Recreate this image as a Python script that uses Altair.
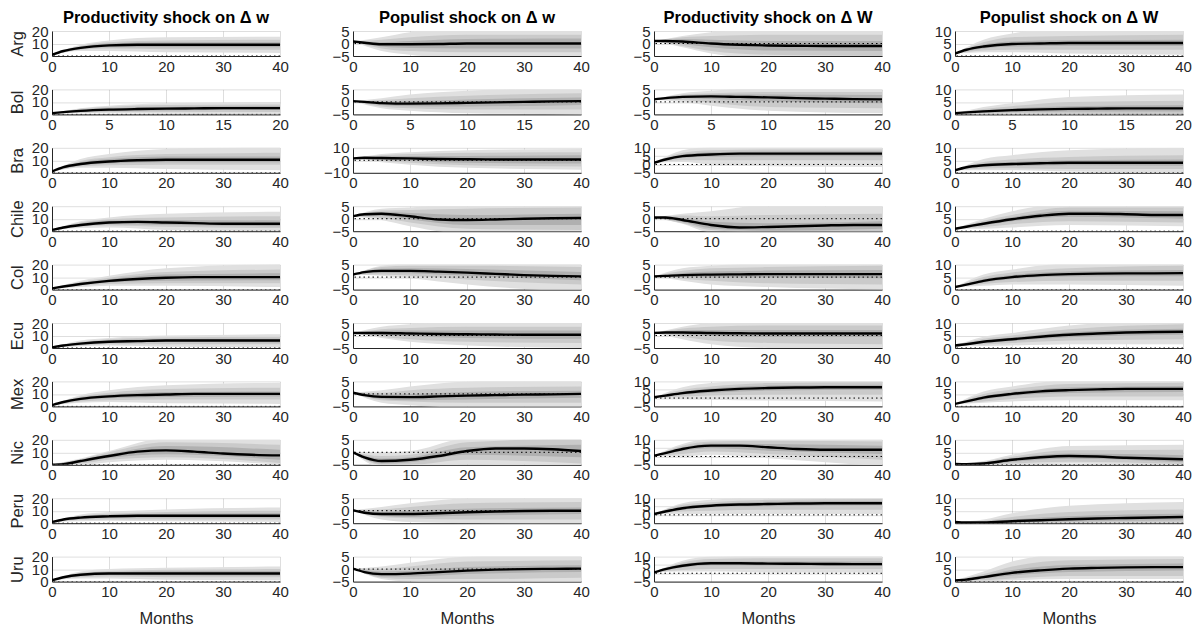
import altair as alt
import pandas as pd

COUNTRIES = ["Arg", "Bol", "Bra", "Chile", "Col", "Ecu", "Mex", "Nic", "Peru", "Uru"]
HORIZON = {"Bol": 20}
TITLES = ["Productivity shock on \u0394 w", "Populist shock on \u0394 w",
          "Productivity shock on \u0394 W", "Populist shock on \u0394 W"]
LINE_FRAC = [0, 0.05, 0.125, 0.25, 0.375, 0.5, 0.625, 0.75, 0.875, 1.0]
BAND_FRAC = [0, 0.125, 0.25, 0.5, 1.0]
X_TICKS = {40: [0, 10, 20, 30, 40], 20: [0, 5, 10, 15, 20]}

# each entry: line, outer hi, outer lo, mid hi, mid lo, inner hi, inner lo
PROD_w = {
    "Arg": ([1, 4, 6.5, 8.5, 9, 9, 9, 9, 9, 9], [1, 9, 12.5, 15, 15.5], [1, 4, 4, 3, 2.5], [1, 8, 11, 12.5, 13], [1, 5, 6, 5.5, 5], [1, 7.5, 10, 11, 11], [1, 5.5, 7, 7, 7]),
    "Bol": ([1, 1.8, 2.8, 3.8, 4.3, 4.6, 4.8, 5, 5, 5], [1, 5, 7, 9, 10], [1, 1, 1, 0.5, 0], [1, 4.5, 6, 7.5, 8], [1, 1.5, 2, 2, 2], [1, 3.8, 5, 6, 6.5], [1, 2, 2.8, 3.2, 3.5]),
    "Bra": ([1, 4.5, 7, 9, 10, 10.5, 10.5, 10.5, 10.5, 10.5], [1, 11, 15, 19, 21], [1, 4, 4, 3, 2], [1, 9.5, 12.5, 15, 16], [1, 5, 6, 6.5, 6.5], [1, 8.5, 11, 13, 13], [1, 6, 7.5, 8.5, 8.5]),
    "Chile": ([1, 3, 5, 7, 7.5, 7, 6.5, 6, 6, 6], [1, 8, 11, 14, 15.5], [1, 2.5, 3, 1, 0], [1, 7, 9.5, 11, 12], [1, 3.5, 4.5, 3.5, 2.5], [1, 6, 8.5, 9, 8.5], [1, 4, 5.5, 5, 4]),
    "Col": ([1, 2.5, 4.5, 7, 8.5, 9.5, 10, 10, 10, 10], [1, 7, 11, 17, 20.5], [1, 2, 3, 3, 2], [1, 6, 9.5, 14, 16], [1, 3, 4.5, 5, 5], [1, 5.3, 8.3, 12, 13], [1, 3.7, 5.7, 7, 7.5]),
    "Ecu": ([0.5, 2, 3.5, 5, 5.5, 6, 6, 6, 6, 6], [0.5, 6, 8, 10, 11], [0.5, 1.5, 2, 1, 0.5], [0.5, 5, 7, 8.5, 9], [0.5, 2, 3, 3, 3], [0.5, 4.2, 6, 7.2, 7.5], [0.5, 2.8, 4, 4.8, 4.5]),
    "Mex": ([1, 3.5, 6, 8, 9, 9.5, 10, 10, 10, 10], [1, 9, 13, 17, 19], [1, 3, 3.5, 2.5, 2], [1, 8, 11, 14, 15], [1, 4, 5, 5.5, 5.5], [1, 7, 9.5, 11.5, 12], [1, 5, 6.5, 7.5, 8]),
    "Nic": ([0, 0.5, 3, 7, 10.5, 11.5, 10.5, 9, 8, 7.5], [0.5, 5, 11, 21, 21], [0, 0, 2, 4, 0], [0.3, 4.5, 10, 18, 16], [0, 1, 4, 6, 1.5], [0.2, 4, 8.5, 15, 12], [0, 2, 5.5, 8.5, 4]),
    "Peru": ([1, 3, 4.5, 5.5, 6, 6, 6, 6, 6, 6], [1, 7, 9, 11, 12.5], [1, 1.5, 2, 1.5, 1], [1, 6, 7.5, 9, 10], [1, 2.5, 3, 3, 3], [1, 5.3, 6.5, 7.5, 8], [1, 3.7, 4.5, 4.5, 4.5]),
    "Uru": ([1, 3.5, 5.5, 6.5, 6.5, 6.5, 6.5, 6.5, 6.5, 6.5], [1, 8, 10, 11, 12], [1, 2.5, 2.5, 1.5, 1], [1, 7, 8.5, 9.5, 10], [1, 3.5, 4, 3.5, 3.5], [1, 6.3, 7.5, 8.2, 8.5], [1, 4.5, 5.3, 5, 4.8]),
}
POP_w = {
    "Arg": ([0.8, 0.3, -0.3, -0.3, -0.2, 0, 0, 0, 0, 0], [0.8, 2.5, 4.5, 6, 6], [0.8, -3, -4.5, -6, -6], [0.8, 1.5, 2.5, 3.5, 3.5], [0.8, -2, -3, -3.5, -3.5], [0.8, 0.5, 1, 1.8, 2], [0.8, -1.2, -1.8, -2, -2]),
    "Bol": ([0.3, 0, -0.5, -0.7, -0.6, -0.4, -0.2, 0, 0.2, 0.3], [0.3, 1.5, 3, 4.5, 5.5], [0.3, -2.5, -3.5, -4.5, -5], [0.3, 0.8, 1.5, 2.5, 3.5], [0.3, -1.8, -2.5, -3, -3], [0.3, 0.2, 0.3, 1, 1.8], [0.3, -1.2, -1.7, -1.8, -1.2]),
    "Bra": ([1.5, 2, 1.8, 1.5, 1, 0.8, 0.7, 0.6, 0.6, 0.6], [1.5, 5, 6.5, 8, 9], [1.5, -1.5, -3.5, -6, -7.5], [1.5, 4, 5, 6, 6.5], [1.5, -0.5, -2, -4, -5], [1.5, 3, 3.5, 3.5, 4], [1.5, 0.5, -0.5, -2, -2.5]),
    "Chile": ([1, 1.8, 2, 1, -0.3, -0.5, -0.3, 0, 0.2, 0.3], [1, 4, 4.5, 6, 6], [1, -0.5, -3, -6, -6], [1, 3.3, 3.5, 4, 4.5], [1, 0.3, -1.5, -4, -4.5], [1, 2.7, 2.3, 1.5, 2], [1, 1.2, -0.3, -2.5, -2.5]),
    "Col": ([1, 2, 2.5, 2.5, 2.2, 1.8, 1.3, 0.8, 0.5, 0.3], [1, 4.5, 5.5, 6, 6], [1, 0.5, -0.5, -3, -6], [1, 4, 4.5, 4.5, 4], [1, 1, 0.5, -1, -3], [1, 3.3, 3.5, 3.2, 2], [1, 1.7, 1.5, 0.5, -1.3]),
    "Ecu": ([1, 1, 1, 0.8, 0.6, 0.5, 0.4, 0.3, 0.3, 0.3], [1, 3.5, 4.5, 5.5, 5.5], [1, -1, -2.5, -4, -5], [1, 2.5, 3, 3.5, 3.5], [1, -0.5, -1.5, -2.5, -3], [1, 1.8, 2, 2, 2], [1, 0.2, -0.3, -1, -1.3]),
    "Mex": ([0.5, -0.5, -1.2, -1.3, -1, -0.7, -0.5, -0.3, -0.2, 0], [0.5, 1.5, 3, 5, 6], [0.5, -3.5, -4.5, -5.5, -5.5], [0.5, 0.5, 1.5, 2.5, 3], [0.5, -2.5, -3, -3.5, -3.5], [0.5, -0.3, 0, 0.8, 1.3], [0.5, -2, -2.5, -2.2, -1.5]),
    "Nic": ([0, -2, -3.5, -3, -1.5, 0.5, 1.5, 1.5, 1.2, 0.5], [0, 0, 0.5, 5.5, 6], [0, -6, -6, -5, -6], [0, -1.5, -1, 4, 5.5], [0, -5, -5, -3, -4.5], [0, -2.5, -2, 2, 3], [0, -4.5, -4, -1, -2]),
    "Peru": ([0.2, -0.8, -1.3, -1.3, -1, -0.6, -0.3, -0.1, 0, 0], [0.2, 1.5, 3, 5, 6], [0.2, -3.5, -4.5, -5, -5.5], [0.2, 0.5, 1.5, 3, 3.5], [0.2, -2.5, -3, -3.5, -3.5], [0.2, -0.5, 0, 0.8, 1.3], [0.2, -2, -2.5, -2, -1.3]),
    "Uru": ([0.2, -1.2, -2, -1.8, -1.2, -0.6, -0.2, 0, 0.1, 0.2], [0.2, 1, 2.5, 5, 6], [0.2, -4, -5, -5.5, -5.5], [0.2, 0, 1, 3, 3.5], [0.2, -3.5, -4, -4, -3.5], [0.2, -1, -0.8, 0.8, 1.5], [0.2, -3, -3, -2, -1.2]),
}
PROD_W = {
    "Arg": ([1, 1, 0.8, 0, -0.5, -0.8, -0.9, -1, -1, -1], [1, 3, 4.5, 5.5, 5.5], [1, -1.5, -4, -6, -6], [1, 2.5, 3, 3.5, 3.5], [1, -1, -3, -4.5, -5], [1, 1.8, 1.5, 1, 1], [1, -0.2, -1.5, -2.8, -3]),
    "Bol": ([1, 1.5, 2, 2.2, 2, 1.8, 1.5, 1.3, 1.1, 1], [1, 3.5, 4.5, 5.5, 5.5], [1, 0, -1.5, -3.5, -4.5], [1, 3, 3.5, 4, 4], [1, 0.8, -0.3, -2, -2.5], [1, 2.5, 3, 3, 2.8], [1, 1.5, 1.2, 0.3, -0.5]),
    "Bra": ([1, 3, 5, 6, 6.5, 6.5, 6.5, 6.5, 6.5, 6.5], [1, 8.5, 10.5, 11, 11], [1, 1.5, 0, -1, -1.5], [1, 7, 8.5, 9, 9], [1, 2.5, 2.5, 2.5, 2.5], [1, 6, 7.3, 7.8, 8], [1, 4, 4.7, 5, 5]),
    "Chile": ([0.5, 0.5, -0.5, -2.5, -3.5, -3.3, -3, -2.7, -2.5, -2.5], [0.5, 2, 3, 5.5, 5.5], [0.5, -2, -5.5, -6, -6], [0.5, 1.3, 1, 1.5, 2], [0.5, -1.8, -4.5, -5.5, -5.5], [0.5, 0.3, -1.2, -1.8, -1], [0.5, -1.3, -3.8, -4.8, -4]),
    "Col": ([0.3, 0.5, 0.8, 1, 1.1, 1.2, 1.2, 1.2, 1.2, 1.2], [0.3, 3.5, 4.5, 5.5, 5.5], [0.3, -1.5, -3, -4, -5], [0.3, 2.5, 3.5, 4, 4.5], [0.3, -0.8, -1.5, -2.5, -3], [0.3, 1.6, 2.2, 2.6, 2.8], [0.3, 0, -0.2, -0.2, -0.5]),
    "Ecu": ([1, 1.2, 1.2, 1, 0.9, 0.8, 0.8, 0.8, 0.8, 0.8], [1, 3.5, 5, 5.5, 5.5], [1, -1.5, -3.5, -5, -5.5], [1, 2.8, 3.5, 4, 4], [1, -0.5, -2, -3, -3.5], [1, 2, 2.2, 2.2, 2.2], [1, 0.4, -0.2, -0.6, -0.6]),
    "Mex": ([0.5, 1.5, 3, 4.5, 5.5, 6, 6.3, 6.5, 6.5, 6.5], [0.5, 6.5, 9, 11, 11], [0.5, -0.5, -1, -1.5, -2], [0.5, 5, 7, 9, 9.5], [0.5, 1, 1.5, 2, 2], [0.5, 4, 5.8, 7.5, 8], [0.5, 2, 3.2, 4.5, 5]),
    "Nic": ([0.5, 2, 4.5, 6.5, 6.5, 5.5, 4.5, 4, 4, 4], [0.5, 7.5, 10.5, 11, 11], [0.5, 0, 1, -1, -6], [0.5, 6.5, 9, 9.5, 9], [0.5, 1.5, 3, 1.5, -2], [0.5, 5.5, 7.8, 7.5, 6.5], [0.5, 3.5, 5, 3.5, 1.5]),
    "Peru": ([0.5, 2, 4, 5.5, 6.2, 6.5, 6.8, 7, 7, 7], [0.5, 7, 9, 10.5, 11], [0.5, 0.5, 0.5, 0.5, 0.5], [0.5, 6, 7.5, 9, 9.5], [0.5, 2, 2.5, 3, 3], [0.5, 5, 6.5, 7.8, 8.3], [0.5, 3, 4.5, 5.2, 5.7]),
    "Uru": ([0.5, 2.5, 4.5, 6, 6, 5.8, 5.7, 5.6, 5.5, 5.5], [0.5, 7.5, 10, 10.5, 10.5], [0.5, 1, 1, 0.5, 0.5], [0.5, 6.5, 8.5, 9, 9], [0.5, 2, 2.5, 2.5, 2.5], [0.5, 5.5, 7, 7, 7], [0.5, 3.5, 4.8, 4.6, 4.3]),
}
POP_W = {
    "Arg": ([1, 2.5, 3.8, 4.8, 5, 5.2, 5.2, 5.2, 5.2, 5.2], [1, 6.5, 9, 11, 11], [1, 1.5, 1.5, 1, 0.5], [1, 5.5, 7.5, 8, 8.5], [1, 2.2, 2.5, 2.5, 2.5], [1, 4.6, 5.8, 6.3, 6.5], [1, 3, 3.8, 4, 4]),
    "Bol": ([0.5, 0.8, 1.2, 1.7, 2, 2.2, 2.3, 2.4, 2.4, 2.4], [0.5, 3, 4.5, 7, 8], [0.5, 0, 0, 0, 0], [0.5, 2.2, 3.3, 5, 5.5], [0.5, 0.4, 0.5, 0.3, 0.2], [0.5, 1.7, 2.4, 3.3, 3.7], [0.5, 0.8, 1, 1.2, 1.2]),
    "Bra": ([1, 2.2, 3, 3.5, 3.8, 4, 4, 4, 4, 4], [1, 5.5, 7, 9, 10], [1, 1, 1, 0.5, 0], [1, 4.3, 5.3, 6.3, 7], [1, 1.7, 1.8, 1.5, 1.5], [1, 3.6, 4.3, 5, 5.3], [1, 2.4, 2.7, 3, 2.8]),
    "Chile": ([1, 1.8, 3, 4.8, 6.2, 7, 7, 6.8, 6.5, 6.5], [1, 5, 8, 11, 11], [1, 1, 1.5, 2.5, 2], [1, 4.2, 6.5, 9.5, 9.5], [1, 1.7, 2.8, 4, 3.5], [1, 3.6, 5.6, 8.2, 8], [1, 2.4, 4, 5.8, 5]),
    "Col": ([1, 2, 3.5, 5, 5.8, 6.2, 6.4, 6.5, 6.5, 6.6], [1, 6, 8, 10.5, 11], [1, 1.5, 2, 2, 1.5], [1, 5, 6.8, 8.5, 9.5], [1, 2.2, 3, 3.5, 3.5], [1, 4.2, 5.8, 7.2, 7.8], [1, 2.8, 4.2, 5.2, 5.3]),
    "Ecu": ([1, 1.5, 2.5, 3.5, 4.5, 5.3, 5.8, 6.2, 6.4, 6.5], [1, 4.5, 6, 9, 11], [1, 0.8, 1, 1.5, 1.5], [1, 3.7, 5, 7.5, 9.5], [1, 1.4, 2, 3, 3.5], [1, 3, 4.2, 6.3, 7.7], [1, 2, 2.8, 4.3, 5.3]),
    "Mex": ([1, 2, 3.5, 5, 6, 6.5, 6.8, 7, 7, 7], [1, 6, 8, 10.5, 11], [1, 1.5, 2, 2.5, 2.5], [1, 5, 6.8, 9, 9.5], [1, 2, 3, 4, 4], [1, 4.2, 5.8, 7.6, 8.2], [1, 2.8, 4.2, 5.4, 5.8]),
    "Nic": ([0.3, 0.2, 0.5, 2, 3, 3.5, 3.3, 2.8, 2.5, 2.2], [0.3, 1.5, 4, 7.5, 8], [0.3, 0, 0, 0.5, 0], [0.3, 1.2, 3.2, 5.8, 6], [0.3, 0, 0.5, 1.2, 0.3], [0.3, 0.9, 2.6, 4.5, 3.8], [0.3, 0.1, 1.2, 2.4, 1]),
    "Peru": ([0.5, 0.3, 0.3, 0.8, 1.2, 1.6, 1.9, 2.1, 2.3, 2.5], [0.5, 1.5, 4, 7, 8.5], [0.5, 0, 0, 0, 0], [0.5, 1, 2.5, 4.5, 5.5], [0.5, 0, 0, 0.2, 0.3], [0.5, 0.6, 1.5, 2.8, 3.8], [0.5, 0.1, 0.3, 0.7, 1.2]),
    "Uru": ([0.5, 0.8, 1.8, 3.5, 4.5, 5.2, 5.5, 5.7, 5.8, 5.8], [0.5, 4, 8, 11, 11], [0.5, 0, 0.5, 1, 1], [0.5, 3, 6, 8.5, 9], [0.5, 0.5, 1.2, 2.2, 2.2], [0.5, 2.4, 4.6, 6.6, 7.2], [0.5, 1.2, 2.4, 3.8, 4.4]),
}
COLUMNS = [PROD_w, POP_w, PROD_W, POP_W]

Y_SCALE_DEFAULT = [([0, 20], [0, 10, 20]), ([-5, 5], [-5, 0, 5]), ([-5, 5], [-5, 0, 5]), ([0, 10], [0, 5, 10])]
Y_SCALE_SPECIAL = {
    (1, "Bra"): ([-10, 10], [-10, 0, 10]),
    (2, "Bra"): ([-5, 10], [-5, 0, 5, 10]),
    (2, "Mex"): ([-5, 10], [-5, 0, 5, 10]),
    (2, "Nic"): ([-5, 10], [-5, 0, 5, 10]),
    (2, "Peru"): ([-5, 10], [-5, 0, 5, 10]),
    (2, "Uru"): ([-5, 10], [-5, 0, 5, 10]),
}

FONT = "Liberation Sans"
TXT = "#262626"
BAND_COLORS = ["#e0e0e0", "#cacaca", "#b0b0b0"]
PW, PH = 228, 25


def panel(ci, ri, country):
    H = HORIZON.get(country, 40)
    line, ohi, olo, mhi, mlo, ihi, ilo = COLUMNS[ci][country]
    ydom, yticks = Y_SCALE_SPECIAL.get((ci, country), Y_SCALE_DEFAULT[ci])
    lx = [f * H for f in LINE_FRAC]
    bx = [f * H for f in BAND_FRAC]
    last = ri == len(COUNTRIES) - 1

    x_axis = alt.Axis(values=X_TICKS[H], title="Months" if last else None,
                      titleFontSize=16.5, titleFont=FONT, titleFontWeight="normal",
                      titleColor=TXT, titlePadding=11)
    y_kwargs = dict(values=yticks, minExtent=22, maxExtent=22)
    if ci == 0:
        y_axis = alt.Axis(title=country, titleFontSize=16.5, titleFont=FONT,
                          titleFontWeight="normal", titleColor=TXT, titlePadding=5, **y_kwargs)
    else:
        y_axis = alt.Axis(title=None, **y_kwargs)

    xs = alt.Scale(domain=[0, H], nice=False, zero=False)
    ys = alt.Scale(domain=ydom, nice=False, zero=False)

    layers = []
    for (hi, lo), col in zip([(ohi, olo), (mhi, mlo), (ihi, ilo)], BAND_COLORS):
        df = pd.DataFrame({"x": bx, "lo": lo, "hi": hi})
        layers.append(
            alt.Chart(df).mark_area(color=col, opacity=1, clip=True, interpolate="monotone").encode(
                x=alt.X("x:Q", scale=xs, axis=x_axis),
                y=alt.Y("lo:Q", scale=ys, axis=y_axis),
                y2="hi:Q",
            )
        )
    zero_df = pd.DataFrame({"z": [0]})
    layers.append(
        alt.Chart(zero_df).mark_rule(color="black", strokeWidth=1, strokeDash=[1.5, 3], clip=True).encode(
            y=alt.Y("z:Q", scale=ys, axis=y_axis)
        )
    )
    line_df = pd.DataFrame({"x": lx, "y": line})
    layers.append(
        alt.Chart(line_df).mark_line(color="black", strokeWidth=2.4, clip=True, interpolate="monotone").encode(
            x=alt.X("x:Q", scale=xs, axis=x_axis),
            y=alt.Y("y:Q", scale=ys, axis=y_axis),
        )
    )
    ch = alt.layer(*layers).properties(width=PW, height=PH)
    if ri == 0:
        ch = ch.properties(title=alt.TitleParams(TITLES[ci], fontSize=16.5, font=FONT, fontWeight="bold",
                                                 color="black", anchor="middle", frame="group", offset=-2))
    return ch


charts = []
for ri, c in enumerate(COUNTRIES):
    for ci in range(4):
        charts.append(panel(ci, ri, c))

chart = alt.concat(*charts, columns=4, spacing={"row": 33.4, "column": 73}, bounds="flush").properties(
    padding={"left": 8, "top": 9, "right": 5, "bottom": 5},
    background="white",
).configure_view(stroke="transparent").configure_axis(
    labelFont=FONT, labelFontSize=15, labelColor=TXT, domainColor=TXT, domainWidth=1,
    gridColor="#000000", gridOpacity=0.13, ticks=False, labelPadding=4,
    labelFlush=False, labelOverlap=False, zindex=1,
).configure_axisX(labelPadding=3)

chart.save("out.html", embed_options={"renderer": "svg", "actions": False})
